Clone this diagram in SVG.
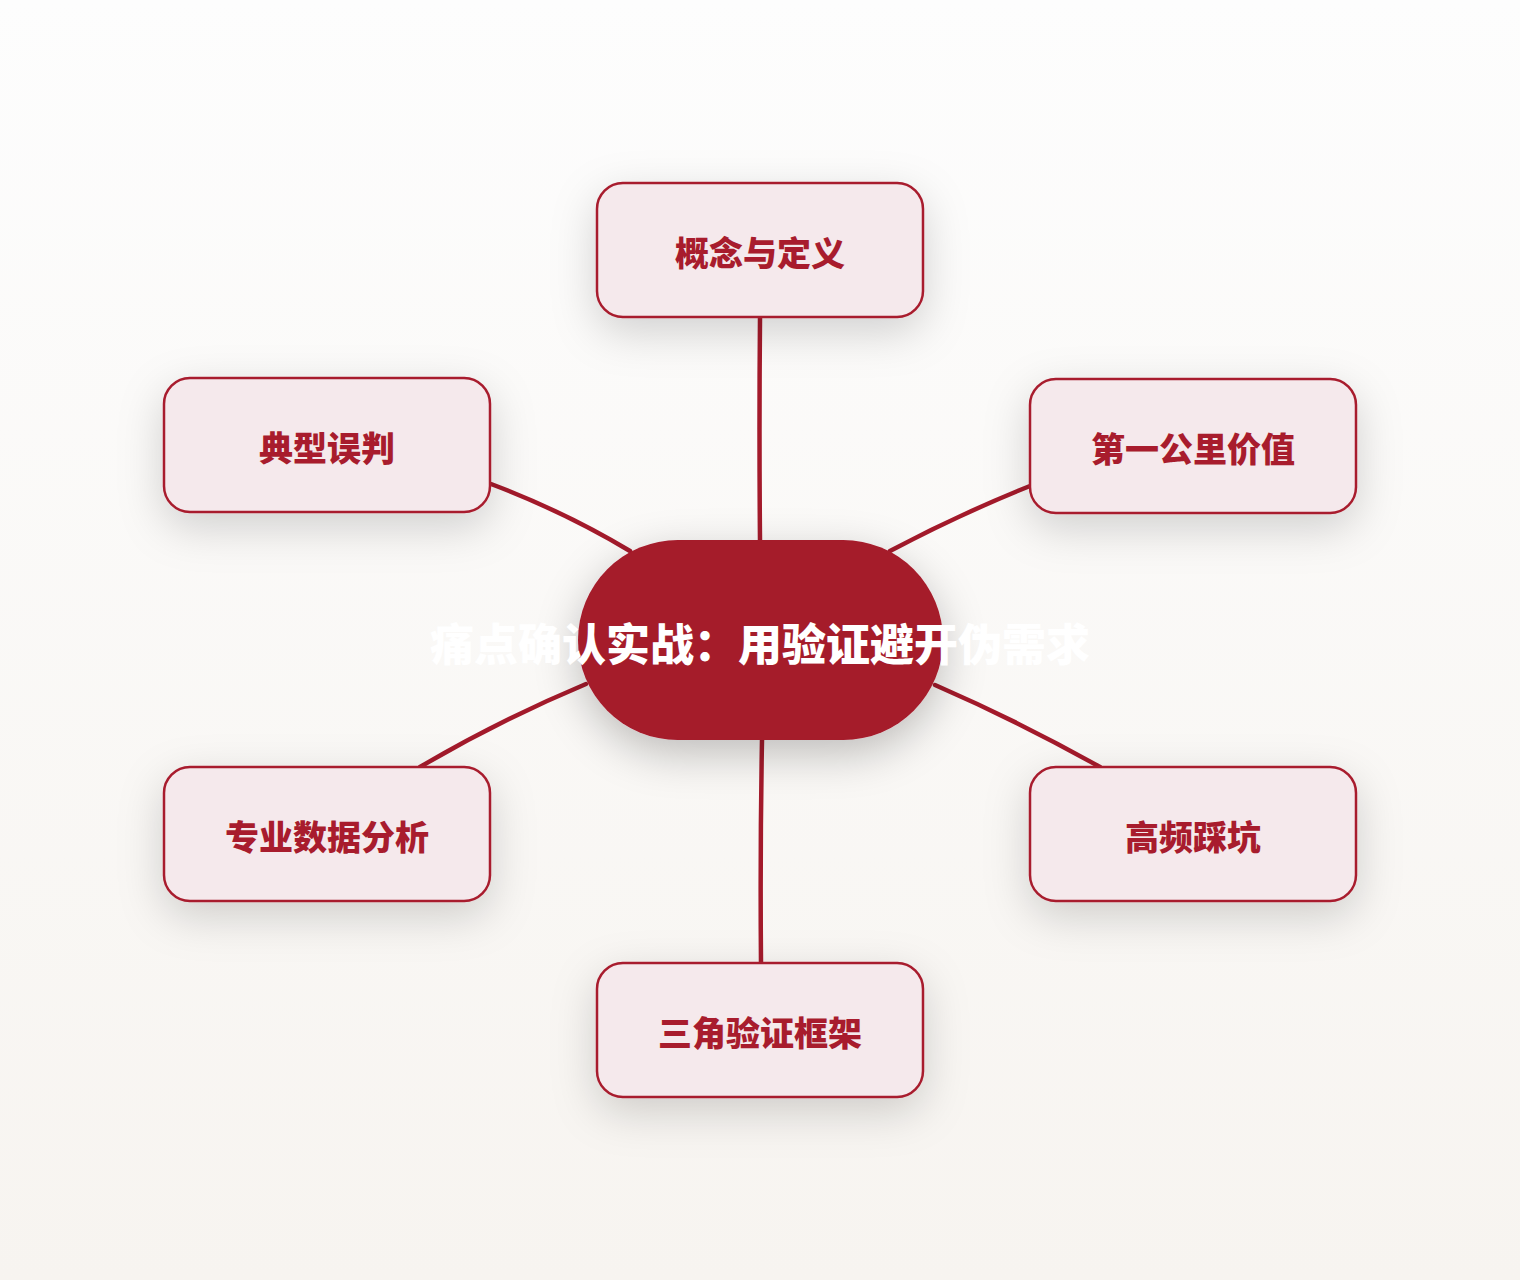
<svg xmlns="http://www.w3.org/2000/svg" width="1520" height="1280" viewBox="0 0 1520 1280">
<defs>
<linearGradient id="bg" x1="0" y1="0" x2="0" y2="1">
<stop offset="0" stop-color="#fdfdfd"/>
<stop offset="1" stop-color="#f7f4f0"/>
</linearGradient>
<filter id="sh" x="-40%" y="-40%" width="180%" height="200%">
<feDropShadow dx="0" dy="14" stdDeviation="22" flood-color="#000" flood-opacity="0.17"/>
</filter>
<filter id="shc" x="-40%" y="-40%" width="180%" height="200%">
<feDropShadow dx="0" dy="14" stdDeviation="22" flood-color="#000" flood-opacity="0.24"/>
</filter>
</defs>
<style>
.node rect{fill:#f5e9ec;stroke:#a81c2d;stroke-width:2.5;filter:url(#sh)}
.node text{font-family:"Noto Sans CJK SC","Noto Sans",sans-serif;font-weight:900;font-size:34px;fill:#a81c2d;text-anchor:middle;dominant-baseline:central}
.edges path{fill:none;stroke:#a31a2b;stroke-width:4.5;stroke-linecap:round}
.center rect{fill:#a51a2b;filter:url(#shc)}
.center text{font-family:"Noto Sans CJK SC","Noto Sans",sans-serif;font-weight:900;font-size:44px;fill:#ffffff;text-anchor:middle;dominant-baseline:central}
</style>
<rect x="0" y="0" width="1520" height="1280" fill="url(#bg)"/>
<g class="edges">
<path d="M760 318 Q759 430 760 541"/>
<path d="M491 484 Q565 512 630 551"/>
<path d="M1030 486 Q960 514 890 551"/>
<path d="M586 684 Q500 720 420 767"/>
<path d="M935 685 Q1020 722 1100 767"/>
<path d="M762 740 Q760 850 761 963"/>
</g>
<g id="center" class="center">
<rect x="578" y="540" width="365" height="200" rx="100" ry="100"/>
<text x="760" y="642">痛点确认实战：用验证避开伪需求</text>
</g>
<g id="n1" class="node">
<rect x="597" y="183" width="326" height="134" rx="26"/>
<text x="760" y="251">概念与定义</text>
</g>
<g id="n2" class="node">
<rect x="164" y="378" width="326" height="134" rx="26"/>
<text x="327" y="446">典型误判</text>
</g>
<g id="n3" class="node">
<rect x="1030" y="379" width="326" height="134" rx="26"/>
<text x="1193" y="447">第一公里价值</text>
</g>
<g id="n4" class="node">
<rect x="164" y="767" width="326" height="134" rx="26"/>
<text x="327" y="835">专业数据分析</text>
</g>
<g id="n5" class="node">
<rect x="1030" y="767" width="326" height="134" rx="26"/>
<text x="1193" y="835">高频踩坑</text>
</g>
<g id="n6" class="node">
<rect x="597" y="963" width="326" height="134" rx="26"/>
<text x="760" y="1031">三角验证框架</text>
</g>
</svg>
